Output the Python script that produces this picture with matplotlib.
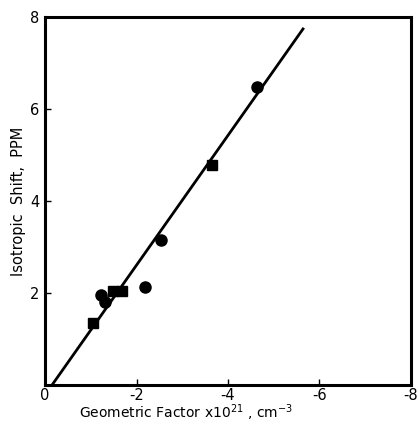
import matplotlib
matplotlib.use("Agg")
import matplotlib.pyplot as plt

# data
circle_x = [-4.63, -2.54, -2.19, -1.23, -1.32]
circle_y = [6.48, 3.15, 2.13, 1.96, 1.80]
square_x = [-3.66, -1.05, -1.49, -1.69]
square_y = [4.78, 1.35, 2.05, 2.05]
fit_x = [-0.15, -5.64]
fit_y = [0.0, 7.74]
xticks = [0, -2, -4, -6, -8]
xtick_labels = ["0", "-2", "-4", "-6", "-8"]
yticks = [2, 4, 6, 8]
ytick_labels = ["2", "4", "6", "8"]

plt.rcParams['font.family'] = ['DejaVu Sans']
fig = plt.figure(figsize=(4.18, 4.25), dpi=100)
ax = fig.add_axes([0.108, 0.094, 0.875, 0.866])

ax.plot(fit_x, fit_y, color='black', lw=2.0, zorder=2)
ax.plot(circle_x, circle_y, 'o', color='black', ms=8, zorder=3)
ax.plot(square_x, square_y, 's', color='black', ms=6.5, zorder=3)

ax.set_xlim(0, -8)
ax.set_ylim(0, 8)
ax.set_xticks(xticks)
ax.set_xticklabels(xtick_labels)
ax.set_yticks(yticks)
ax.set_yticklabels(ytick_labels)
ax.tick_params(direction='in', length=4, width=1, labelsize=10.5)
ax.tick_params(axis='x', pad=2)
ax.tick_params(axis='y', pad=4)

for s in ax.spines.values():
    s.set_linewidth(2.2)

fig.text(0.445, 0.004, "Geometric Factor x10$^{21}$ , cm$^{-3}$", fontsize=10,
         ha='center', va='bottom')
ax.set_ylabel("Isotropic  Shift,  PPM", fontsize=10.5, labelpad=3)

fig.savefig("out.png", dpi=100)
